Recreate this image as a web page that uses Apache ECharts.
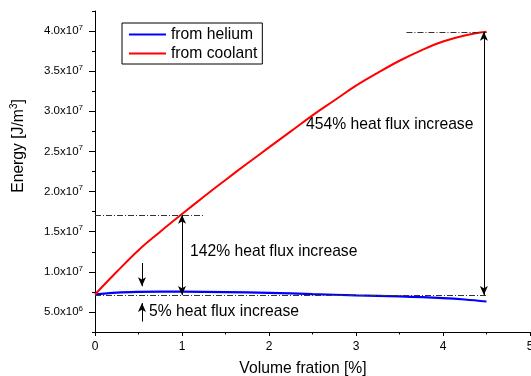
<!DOCTYPE html>
<html>
<head>
<meta charset="utf-8">
<script src="https://cdn.jsdelivr.net/npm/echarts@6/dist/echarts.min.js"></script>
<style>
html,body{margin:0;padding:0;background:#fff;}
#chart{width:531px;height:376px;}
</style>
</head>
<body>
<div id="chart"></div>
<script>
//数据 (体积分数 %, 能量 J/m3)
let heliumX=[0,0.25,0.5,0.75,1,1.5,2,2.5,3,3.5,4,4.25,4.5];
let heliumY=[7.18e6,7.4e6,7.5e6,7.53e6,7.52e6,7.47e6,7.38e6,7.22e6,7.07e6,6.93e6,6.72e6,6.55e6,6.3e6];
let coolantX=[0,0.25,0.5,0.75,1,1.25,1.5,1.75,2,2.25,2.5,2.75,3,3.25,3.5,3.75,4,4.25,4.5];
let coolantY=[7.18e6,10.0e6,12.7e6,15.0e6,17.2e6,19.35e6,21.45e6,23.5e6,25.5e6,27.5e6,29.5e6,31.35e6,33.2e6,34.8e6,36.3e6,37.6e6,38.7e6,39.45e6,39.9e6];
let yLabelValues=[5e6,1e7,1.5e7,2e7,2.5e7,3e7,3.5e7,4e7];
//参考线 [x1,y1,x2,y2]
let refLines=[[0,7.1e6,4.5,7.1e6],[0,17.1e6,1.25,17.1e6],[3.58,39.9e6,4.5,39.9e6]];
//双箭头
let bothArrows=[[1.0,7.1e6,1.0,17.1e6],[4.47,7.1e6,4.47,39.9e6]];
//单箭头 (终点为箭头)
let oneArrows=[[0.54,11.1e6,0.54,8.2e6],[0.54,3.8e6,0.54,6.1e6]];
let notes=["454% heat flux increase","142% heat flux increase","5% heat flux increase"];

let font="'Liberation Sans', Arial, sans-serif";
let chart=echarts.init(document.getElementById("chart"));

function zip(xs,ys){
	return xs.map(function(x,i){return [x,ys[i]];});
}
function toMark(list,sym){
	return list.map(function(l){
		return [{coord:[l[0],l[1]],symbol:sym[0]},{coord:[l[2],l[3]],symbol:sym[1]}];
	});
}
function sciLabel(v){
	let e=Math.floor(Math.log10(v)+1e-9);
	let m=(v/Math.pow(10,e)).toFixed(1);
	return m+"x10{sup|"+e+"}";
}
let supRich={
	sup:{fontSize:8,lineHeight:8,verticalAlign:"top",fontFamily:font,color:"#000"}
};

let option={
	animation:false,
	backgroundColor:"#fff",
	textStyle:{fontFamily:font,color:"#000"},
	grid:{left:95,right:1,top:11,bottom:44,containLabel:false,outerBoundsMode:"none"},
	legend:{
		data:["from helium","from coolant"],
		orient:"vertical",
		left:122,top:23,
		padding:[3,5,2,7],
		itemGap:2,
		itemWidth:37,itemHeight:2,
		icon:"rect",
		borderColor:"#000",borderWidth:1,
		textStyle:{fontSize:15.7,lineHeight:17,color:"#000",fontFamily:font}
	},
	xAxis:{
		type:"value",min:0,max:5,interval:1,
		axisLine:{lineStyle:{color:"#000",width:1}},
		axisTick:{length:4,lineStyle:{color:"#000"}},
		minorTick:{show:true,splitNumber:2,length:2.5,lineStyle:{color:"#000"}},
		splitLine:{show:false},
		axisLabel:{fontSize:12,margin:9,color:"#000",fontFamily:font}
	},
	yAxis:[{
		type:"value",min:2.5e6,max:4.25e7,interval:2.5e6,
		axisLine:{show:true,lineStyle:{color:"#000",width:1}},
		axisTick:{length:3,lineStyle:{color:"#000"}},
		splitLine:{show:false},
		axisLabel:{
			customValues:yLabelValues,
			margin:12,fontSize:11.5,lineHeight:15,color:"#000",fontFamily:font,
			formatter:sciLabel,
			rich:supRich
		}
	},{
		type:"value",min:2.5e6,max:4.25e7,position:"left",
		axisLine:{show:false},
		axisTick:{show:true,customValues:yLabelValues,length:6,lineStyle:{color:"#000"}},
		axisLabel:{show:false},
		splitLine:{show:false}
	}],
	graphic:[
		{type:"text",x:19,y:146,rotation:Math.PI/2,
			style:{text:"Energy [J/m{sup|3}]",font:"15.7px "+font,fill:"#000",align:"center",verticalAlign:"middle",
				rich:{sup:{fontSize:10,lineHeight:10,verticalAlign:"top",fontFamily:font}},lineHeight:19}},
		{type:"text",x:303,y:369,
			style:{text:"Volume fration [%]",font:"15.7px "+font,fill:"#000",align:"center",verticalAlign:"middle"}},
		{type:"text",x:306,y:125,style:{text:notes[0],font:"15.7px "+font,fill:"#000",verticalAlign:"middle"}},
		{type:"text",x:190,y:252,style:{text:notes[1],font:"15.7px "+font,fill:"#000",verticalAlign:"middle"}},
		{type:"text",x:149,y:312,style:{text:notes[2],font:"15.7px "+font,fill:"#000",verticalAlign:"middle"}}
	],
	series:[
		{
			name:"from helium",type:"line",
			data:zip(heliumX,heliumY),
			showSymbol:false,smooth:0.4,
			lineStyle:{color:"#0000ff",width:2.2},itemStyle:{color:"#0000ff"},
			z:3
		},
		{
			name:"from coolant",type:"line",
			data:zip(coolantX,coolantY),
			showSymbol:false,smooth:0.4,
			lineStyle:{color:"#ff0000",width:2},itemStyle:{color:"#ff0000"},
			z:3
		},
		{
			name:"refs",type:"line",data:[],silent:true,
			markLine:{
				silent:true,animation:false,
				label:{show:false},
				symbolSize:0,
				lineStyle:{color:"#333",width:1,type:[6,2,1,2]},
				emphasis:{disabled:true},
				data:toMark(refLines,["none","none"])
			},
			z:2
		},
		{
			name:"arrows",type:"line",data:[],silent:true,
			markLine:{
				silent:true,animation:false,
				label:{show:false},
				symbolSize:[6,9],
				lineStyle:{color:"#000",width:1,type:"solid"},
				itemStyle:{color:"#000"},
				emphasis:{disabled:true},
				data:toMark(bothArrows,["arrow","arrow"]).concat(toMark(oneArrows,["none","arrow"]))
			},
			z:4
		}
	]
};
chart.setOption(option);
</script>
</body>
</html>
